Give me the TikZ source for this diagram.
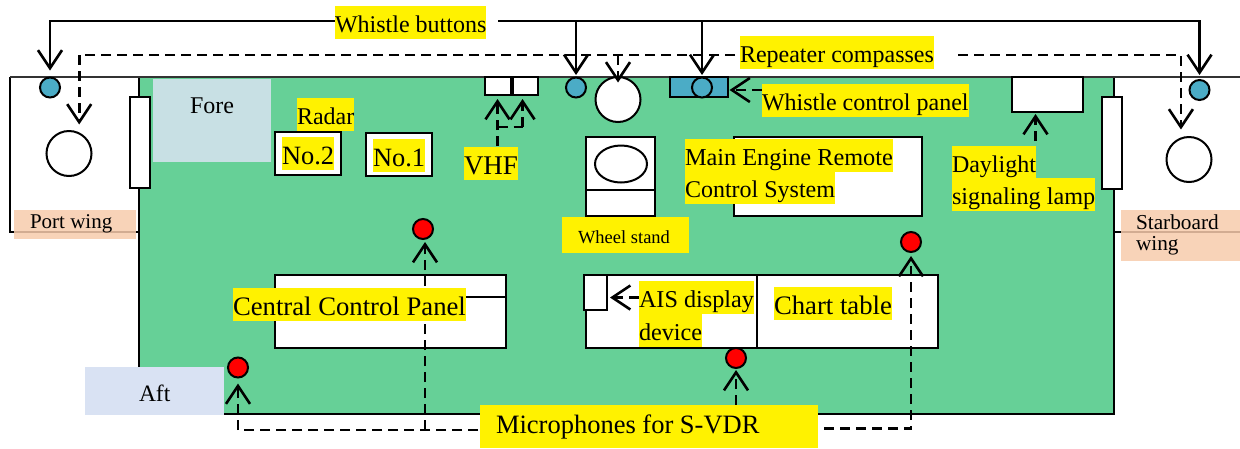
\documentclass[tikz,border=0pt]{standalone}
\usepackage{fontspec}
\setmainfont{Liberation Serif}
\usetikzlibrary{arrows.meta,shapes.geometric}
\pgfdeclarelayer{lbl}
\pgfsetlayers{main,lbl}
\definecolor{deck}{HTML}{66D097}
\definecolor{forebg}{HTML}{C8E0E4}
\definecolor{aftbg}{HTML}{D9E2F3}
\definecolor{wingbg}{HTML}{F7CBAC}
\definecolor{btn}{HTML}{4BACC6}
\tikzset{
  every node/.style={inner sep=0pt,outer sep=0pt},
  edge line/.style={draw=black,line width=2pt},
  top line/.style={draw=black!80,line width=1.2pt},
  whitebox/.style={draw=black,line width=2pt,fill=white},
  bluebox/.style={draw=black,line width=2pt,fill=btn},
  flat/.style={fill=#1},
  btncirc/.style={circle,draw=black,line width=2pt,fill=btn,minimum size=20pt},
  miccirc/.style={circle,draw=black,line width=2pt,fill=red,minimum size=20pt},
  compass/.style={circle,draw=black,line width=2pt,fill=white,minimum size=45pt},
  ylab/.style={fill=yellow,anchor=west},
  plain/.style={anchor=base west},
  solidarrow/.style={line width=2.6pt,-{Straight Barb[length=18pt,width=24pt,line width=2.6pt]}},
  dashedarrow/.style={line width=2.6pt,dash pattern=on 10pt off 6pt,-{Straight Barb[length=18pt,width=24pt,line width=2.6pt,sep=0pt]}},
  dashedline/.style={line width=2.6pt,dash pattern=on 10pt off 6pt},
}
\newcommand\bx[6]{\node[#1,minimum width={(#5-#3)*1pt},minimum height={(#6-#4)*1pt},anchor=north west] (#2) at (#3,#4) {};}
\newcommand\yl[5]{\begin{pgfonlayer}{lbl}\node[ylab] (#1) at (#2,#3) {\fontsize{#4}{#4}\selectfont\rule[\dimexpr.42em-16.5pt\relax]{0pt}{33pt}#5};\end{pgfonlayer}}
\newcommand\pt[5]{\begin{pgfonlayer}{lbl}\node[plain] (#1) at (#2,#3) {\fontsize{#4}{#4}\selectfont #5};\end{pgfonlayer}}
\begin{document}
\begin{tikzpicture}[x=1pt,y=-1pt]
\useasboundingbox (0,0) rectangle (1240,448);
% deck and wings
\bx{flat=deck,edge line}{deck}{139}{77}{1114}{414}
\draw[edge line] (139,232) -- (10,232) -- (10,77);
\draw[edge line] (1114,232) -- (1240,232);
\draw[top line] (10,77) -- (1240,77);
\bx{flat=forebg}{forebox}{153}{79}{271}{162}
\bx{whitebox}{winL}{130}{97}{150}{188}
\bx{whitebox}{winR}{1102}{97}{1122}{189}
% equipment
\bx{whitebox}{no2}{275}{132}{341}{175}
\bx{whitebox}{no1}{366}{133}{432}{176}
\bx{whitebox}{vhfa}{484.5}{77}{510.5}{95}
\bx{whitebox}{vhfb}{512.5}{77}{538}{95}
\bx{bluebox}{panel}{670}{77}{728}{97}
\bx{whitebox}{stand}{586}{137}{654.5}{216}
\draw[edge line] (stand.west |- 0,190) -- (stand.east |- 0,190);
\node[draw=black,line width=2pt,fill=white,ellipse,minimum width=52pt,minimum height=37pt] (standdisp) at (621,164) {};
\bx{whitebox}{mers}{734}{137}{921.5}{216}
\bx{whitebox}{lamp}{1012}{77}{1083}{112}
\bx{whitebox}{ccp}{275}{275}{506}{347.5}
\draw[edge line] (ccp.west |- 0,296.5) -- (ccp.east |- 0,296.5);
\bx{whitebox}{chart}{586}{275}{938}{347.5}
\draw[edge line] (756.5,275) -- (756.5,347.5);
\bx{whitebox}{ais}{584}{275}{607}{310}
% round things
\node[btncirc] (bPort) at (50,87.5) {};
\node[btncirc] (bMid) at (576,87.5) {};
\node[btncirc] (bPanel) at (702,87.5) {};
\node[btncirc] (bStbd) at (1199.5,90) {};
\node[compass] (cPort) at (69,153.5) {};
\node[compass] (cMid) at (618,99.5) {};
\node[compass] (cStbd) at (1189,159.5) {};
\node[miccirc] (mA) at (423,229) {};
\node[miccirc] (mB) at (238,367.5) {};
\node[miccirc] (mC) at (736,358) {};
\node[miccirc] (mD) at (911,242) {};
% labels
\yl{lWhistle}{335}{22.5}{24}{Whistle buttons}
\yl{lRepeat}{740}{52.5}{24}{Repeater compasses}
\yl{lPanel}{762}{100.5}{24}{Whistle control panel}
\yl{lRadar}{297}{114.5}{24}{Radar}
\yl{lNo2}{282}{153.5}{26.4}{No.2}
\yl{lNo1}{373}{155}{26.4}{No.1}
\yl{lVHF}{464}{163.5}{27}{VHF}
\yl{lMain}{685}{155}{24.3}{Main Engine Remote}
\yl{lCtrl}{685}{187.5}{24}{Control System}
\yl{lDay}{952}{162}{24}{Daylight}
\yl{lSig}{952}{194.5}{24.2}{signaling lamp}
\yl{lCCP}{233}{304.5}{26.7}{Central Control Panel}
\yl{lAIS}{639}{297.5}{24.2}{AIS display}
\yl{lDev}{639}{330}{24.2}{device}
\yl{lChart}{774}{303.5}{26.7}{Chart table}
\begin{pgfonlayer}{lbl}
\bx{fill=yellow}{standbox}{562}{217}{689}{253}
\bx{fill=yellow}{micbox}{480}{405}{818}{448}
\bx{fill=aftbg}{aftbox}{85}{367}{224}{415}
\bx{fill=wingbg,fill opacity=.85}{portbox}{14}{210}{136}{239}
\bx{fill=wingbg,fill opacity=.85}{stbdbox}{1121}{210}{1240}{261}
\end{pgfonlayer}
\pt{tFore}{190}{113.5}{24}{Fore}
\pt{tPort}{30}{228.5}{21}{Port wing}
\pt{tStand}{578}{243.5}{18.5}{Wheel stand}
\pt{tMic}{496}{433}{26.5}{Microphones for S-VDR}
\pt{tAft}{139}{401}{23.5}{Aft}
\pt{tStbdA}{1136}{229.5}{21.3}{Starboard}
\pt{tStbdB}{1136}{250.5}{21.3}{wing}
% repeater compass connectors (dashed)
\coordinate (repL) at (735,55);
\coordinate (repR) at (958,55);
\coordinate (repM) at (618,55);
\draw[dashedarrow,shorten >=9pt] (repL) -| (cPort.63);
\draw[dashedarrow,shorten >=9pt] (repR) -| (cStbd.111);
\draw[dashedarrow,shorten >=-5.5pt] (repM) -- (cMid.north);
% whistle button connectors (solid)
\coordinate (whR) at (498,21);
\coordinate (jMid) at (576,21);
\coordinate (jPanel) at (702,21);
\draw[solidarrow,shorten >=7pt] (lWhistle.west |- 0,21) -| (bPort.north);
\draw[solidarrow,shorten >=5pt] (whR) -| (bStbd.north);
\draw[solidarrow,shorten >=2.5pt] (jMid) -- (bMid.north);
\draw[solidarrow,shorten >=2.5pt] (jPanel) -- (bPanel.north);
% single pointers
\coordinate (pStart) at (762,90);
\draw[dashedarrow,shorten >=1.5pt] (pStart) -- (pStart -| panel.east);
\draw[dashedarrow,shorten >=3pt] (lAIS.west) -- (lAIS.west -| ais.east);
\coordinate (vhfS) at (497.5,146);
\coordinate (vhfJ) at (497.5,127);
\coordinate (vhfK) at (522.5,127);
\draw[dashedarrow,shorten >=4pt] (vhfS) -- (vhfS |- vhfa.south);
\draw[dashedline] (vhfJ) -- (vhfK);
\draw[dashedarrow,shorten >=4pt] (vhfK) -- (vhfK |- vhfb.south);
\coordinate (dayS) at (1035.5,141);
\draw[dashedarrow,shorten >=2pt] (dayS) -- (dayS |- lamp.south);
% microphone connectors (dashed)
\coordinate (micL) at (478,430);
\coordinate (micJ) at (425,430);
\coordinate (micM) at (736,405);
\coordinate (micR) at (824,428.5);
\draw[dashedarrow,shorten >=6pt] (micL) -| (mB.south);
\draw[dashedarrow,shorten >=3pt] (micJ) -- (micJ |- mA.south);
\draw[dashedarrow,shorten >=2pt] (micM) -- (mC.south);
\draw[dashedarrow,shorten >=4pt] (micR) -| (mD.south);
\end{tikzpicture}
\end{document}
